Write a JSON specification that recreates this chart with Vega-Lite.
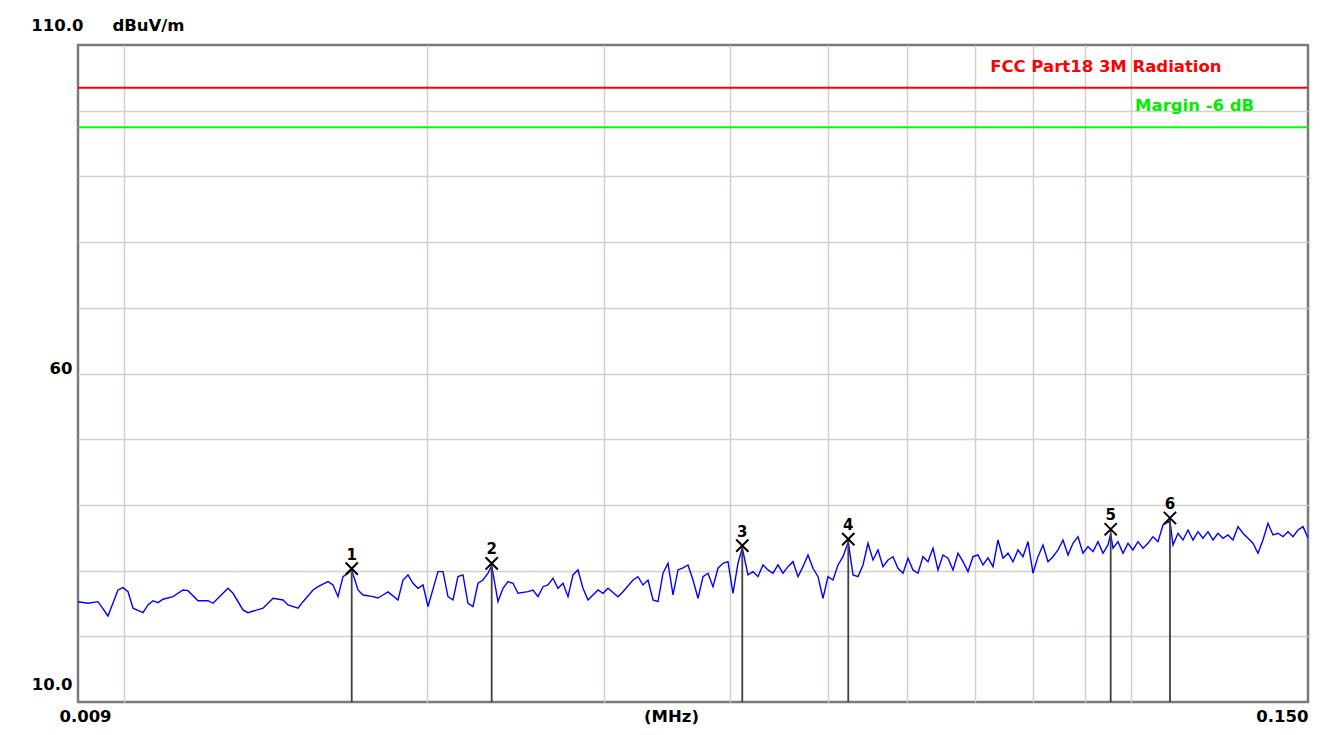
{
  "$schema": "https://vega.github.io/schema/vega-lite/v6.json",
  "width": 1230,
  "height": 657,
  "autosize": {"type": "none"},
  "padding": {"left": 78, "top": 45, "right": 30, "bottom": 33},
  "background": "#ffffff",
  "config": {
    "view": {"stroke": "#7a7a7a", "strokeWidth": 2.5},
    "axis": {
      "domain": false,
      "ticks": false,
      "grid": true,
      "gridColor": "#d4d0c8",
      "gridWidth": 1.5,
      "labelFont": "DejaVu Sans",
      "labelFontWeight": "bold",
      "labelFontSize": 16.5,
      "labelColor": "#000000",
      "titleFont": "DejaVu Sans",
      "titleFontWeight": "bold",
      "titleFontSize": 16.5,
      "titleColor": "#000000"
    },
    "text": {"font": "DejaVu Sans", "fontWeight": "bold"}
  },
  "datasets": {
    "trace": [
      {"f": 0.009000, "v": 25.27}, {"f": 0.009208, "v": 25.03}, {"f": 0.009421, "v": 25.27}, {"f": 0.009639, "v": 23.09},
      {"f": 0.009862, "v": 27.05}, {"f": 0.009976, "v": 27.40}, {"f": 0.010091, "v": 26.79}, {"f": 0.010207, "v": 24.27},
      {"f": 0.010443, "v": 23.60}, {"f": 0.010563, "v": 24.77}, {"f": 0.010684, "v": 25.42}, {"f": 0.010807, "v": 25.12},
      {"f": 0.010932, "v": 25.64}, {"f": 0.011185, "v": 26.03}, {"f": 0.011443, "v": 27.05}, {"f": 0.011575, "v": 26.95},
      {"f": 0.011843, "v": 25.42}, {"f": 0.012117, "v": 25.42}, {"f": 0.012256, "v": 25.03}, {"f": 0.012539, "v": 26.55},
      {"f": 0.012684, "v": 27.31}, {"f": 0.012830, "v": 26.55}, {"f": 0.013126, "v": 24.01}, {"f": 0.013277, "v": 23.60},
      {"f": 0.013741, "v": 24.27}, {"f": 0.014059, "v": 25.79}, {"f": 0.014384, "v": 25.53}, {"f": 0.014550, "v": 24.77},
      {"f": 0.014886, "v": 24.27}, {"f": 0.015058, "v": 25.27}, {"f": 0.015406, "v": 27.05}, {"f": 0.015583, "v": 27.55},
      {"f": 0.015943, "v": 28.32}, {"f": 0.016127, "v": 27.81}, {"f": 0.016313, "v": 26.03}, {"f": 0.016500, "v": 29.08},
      {"f": 0.016690, "v": 29.60}, {"f": 0.016832, "v": 30.10}, {"f": 0.017076, "v": 27.05}, {"f": 0.017273, "v": 26.29},
      {"f": 0.017672, "v": 26.03}, {"f": 0.017875, "v": 25.83}, {"f": 0.018081, "v": 26.29}, {"f": 0.018289, "v": 26.75},
      {"f": 0.018712, "v": 25.53}, {"f": 0.018927, "v": 28.57}, {"f": 0.019145, "v": 29.34}, {"f": 0.019365, "v": 28.07},
      {"f": 0.019588, "v": 27.31}, {"f": 0.019813, "v": 27.81}, {"f": 0.020041, "v": 24.51}, {"f": 0.020504, "v": 29.84},
      {"f": 0.020741, "v": 29.84}, {"f": 0.020979, "v": 26.03}, {"f": 0.021220, "v": 25.53}, {"f": 0.021464, "v": 29.08},
      {"f": 0.021711, "v": 29.34}, {"f": 0.021961, "v": 25.03}, {"f": 0.022214, "v": 24.51}, {"f": 0.022469, "v": 28.07},
      {"f": 0.022727, "v": 28.57}, {"f": 0.022989, "v": 29.60}, {"f": 0.023184, "v": 30.71}, {"f": 0.023521, "v": 25.27},
      {"f": 0.023791, "v": 27.31}, {"f": 0.024065, "v": 28.32}, {"f": 0.024342, "v": 28.07}, {"f": 0.024622, "v": 26.55},
      {"f": 0.025191, "v": 26.79}, {"f": 0.025481, "v": 27.05}, {"f": 0.025774, "v": 26.03}, {"f": 0.026071, "v": 27.55},
      {"f": 0.026371, "v": 27.81}, {"f": 0.026674, "v": 28.83}, {"f": 0.026981, "v": 27.31}, {"f": 0.027291, "v": 28.07},
      {"f": 0.027605, "v": 26.03}, {"f": 0.027923, "v": 29.34}, {"f": 0.028244, "v": 30.10}, {"f": 0.028569, "v": 27.31},
      {"f": 0.028897, "v": 25.53}, {"f": 0.029566, "v": 27.05}, {"f": 0.029906, "v": 26.55}, {"f": 0.030250, "v": 27.31},
      {"f": 0.030950, "v": 26.03}, {"f": 0.031306, "v": 26.79}, {"f": 0.032031, "v": 28.57}, {"f": 0.032399, "v": 29.08},
      {"f": 0.032772, "v": 27.81}, {"f": 0.033149, "v": 28.57}, {"f": 0.033530, "v": 25.53}, {"f": 0.033916, "v": 25.27},
      {"f": 0.034306, "v": 29.60}, {"f": 0.034700, "v": 31.12}, {"f": 0.035100, "v": 26.29}, {"f": 0.035503, "v": 30.10},
      {"f": 0.035911, "v": 30.40}, {"f": 0.036325, "v": 30.86}, {"f": 0.036742, "v": 28.57}, {"f": 0.037165, "v": 25.79},
      {"f": 0.037593, "v": 29.08}, {"f": 0.038025, "v": 29.60}, {"f": 0.038463, "v": 27.55}, {"f": 0.038905, "v": 30.36},
      {"f": 0.039352, "v": 31.12}, {"f": 0.039804, "v": 31.36}, {"f": 0.040262, "v": 26.55}, {"f": 0.040726, "v": 31.12},
      {"f": 0.041126, "v": 33.44}, {"f": 0.041668, "v": 29.34}, {"f": 0.042148, "v": 29.84}, {"f": 0.042632, "v": 29.08},
      {"f": 0.043123, "v": 30.86}, {"f": 0.043618, "v": 30.10}, {"f": 0.044120, "v": 29.60}, {"f": 0.044627, "v": 30.86},
      {"f": 0.045140, "v": 29.60}, {"f": 0.045660, "v": 30.60}, {"f": 0.046185, "v": 31.36}, {"f": 0.046716, "v": 29.08},
      {"f": 0.047253, "v": 30.60}, {"f": 0.047797, "v": 32.38}, {"f": 0.048347, "v": 30.36}, {"f": 0.048903, "v": 29.08},
      {"f": 0.049465, "v": 25.79}, {"f": 0.050034, "v": 29.08}, {"f": 0.050610, "v": 28.57}, {"f": 0.051192, "v": 30.86},
      {"f": 0.051781, "v": 32.12}, {"f": 0.052410, "v": 34.36}, {"f": 0.052979, "v": 29.34}, {"f": 0.053588, "v": 29.08},
      {"f": 0.054205, "v": 30.86}, {"f": 0.054828, "v": 34.16}, {"f": 0.055459, "v": 31.62}, {"f": 0.056096, "v": 33.14},
      {"f": 0.056741, "v": 30.60}, {"f": 0.057394, "v": 31.62}, {"f": 0.058054, "v": 32.12}, {"f": 0.058722, "v": 30.36},
      {"f": 0.059397, "v": 29.60}, {"f": 0.060080, "v": 31.88}, {"f": 0.060771, "v": 30.10}, {"f": 0.061471, "v": 29.60},
      {"f": 0.062178, "v": 32.12}, {"f": 0.062893, "v": 31.36}, {"f": 0.063616, "v": 33.40}, {"f": 0.064348, "v": 30.10},
      {"f": 0.065088, "v": 32.38}, {"f": 0.065837, "v": 31.88}, {"f": 0.066594, "v": 30.10}, {"f": 0.067360, "v": 32.64},
      {"f": 0.068135, "v": 31.36}, {"f": 0.068918, "v": 29.84}, {"f": 0.069711, "v": 32.12}, {"f": 0.070513, "v": 32.38},
      {"f": 0.071324, "v": 30.86}, {"f": 0.072144, "v": 31.93}, {"f": 0.072974, "v": 30.60}, {"f": 0.073813, "v": 34.66},
      {"f": 0.074662, "v": 31.88}, {"f": 0.075521, "v": 32.64}, {"f": 0.076389, "v": 31.36}, {"f": 0.077268, "v": 33.14},
      {"f": 0.078157, "v": 32.12}, {"f": 0.079056, "v": 34.40}, {"f": 0.079965, "v": 29.60}, {"f": 0.080885, "v": 32.12},
      {"f": 0.081815, "v": 33.90}, {"f": 0.082756, "v": 31.36}, {"f": 0.083708, "v": 32.12}, {"f": 0.084671, "v": 33.14},
      {"f": 0.085645, "v": 34.66}, {"f": 0.086630, "v": 32.38}, {"f": 0.087627, "v": 34.16}, {"f": 0.088635, "v": 35.16},
      {"f": 0.089654, "v": 32.64}, {"f": 0.090686, "v": 33.64}, {"f": 0.091729, "v": 32.88}, {"f": 0.092784, "v": 34.40},
      {"f": 0.093851, "v": 32.64}, {"f": 0.094931, "v": 33.90}, {"f": 0.095520, "v": 35.57}, {"f": 0.096022, "v": 33.40},
      {"f": 0.097127, "v": 34.40}, {"f": 0.098244, "v": 32.64}, {"f": 0.099374, "v": 34.16}, {"f": 0.100517, "v": 33.14},
      {"f": 0.101673, "v": 34.40}, {"f": 0.102843, "v": 33.40}, {"f": 0.104026, "v": 34.16}, {"f": 0.105222, "v": 35.16},
      {"f": 0.106433, "v": 34.40}, {"f": 0.107657, "v": 36.94}, {"f": 0.109390, "v": 37.55}, {"f": 0.110148, "v": 33.90},
      {"f": 0.111414, "v": 35.68}, {"f": 0.112696, "v": 34.66}, {"f": 0.113992, "v": 36.18}, {"f": 0.115303, "v": 34.66},
      {"f": 0.116629, "v": 35.93}, {"f": 0.117970, "v": 34.92}, {"f": 0.119327, "v": 35.93}, {"f": 0.120700, "v": 34.66},
      {"f": 0.122088, "v": 35.68}, {"f": 0.123492, "v": 34.92}, {"f": 0.124912, "v": 35.42}, {"f": 0.126349, "v": 34.66},
      {"f": 0.127802, "v": 36.69}, {"f": 0.129272, "v": 35.68}, {"f": 0.130759, "v": 34.92}, {"f": 0.132263, "v": 34.16},
      {"f": 0.133784, "v": 32.64}, {"f": 0.135322, "v": 34.66}, {"f": 0.136879, "v": 37.20}, {"f": 0.138453, "v": 35.42},
      {"f": 0.140047, "v": 35.68}, {"f": 0.141658, "v": 35.16}, {"f": 0.143287, "v": 35.93}, {"f": 0.144935, "v": 35.16},
      {"f": 0.146602, "v": 36.18}, {"f": 0.148288, "v": 36.69}, {"f": 0.150000, "v": 34.97}
    ],
    "markers": [
      {"no": "1", "f": 0.016832, "v": 30.3},
      {"no": "2", "f": 0.023184, "v": 31.1},
      {"no": "3", "f": 0.041126, "v": 33.8},
      {"no": "4", "f": 0.052410, "v": 34.8},
      {"no": "5", "f": 0.095520, "v": 36.3},
      {"no": "6", "f": 0.109390, "v": 38.0}
    ],
    "limits": [
      {"name": "FCC Part18 3M Radiation", "v": 103.5},
      {"name": "Margin -6 dB", "v": 97.5}
    ]
  },
  "layer": [
    {
      "data": {"name": "trace"},
      "mark": {"type": "line", "color": "#0000ff", "strokeWidth": 1.4, "clip": true},
      "encoding": {
        "x": {
          "field": "f",
          "type": "quantitative",
          "scale": {"type": "log", "domain": [0.009, 0.15], "nice": false},
          "axis": {
            "values": [0.009, 0.01, 0.02, 0.03, 0.04, 0.05, 0.06, 0.07, 0.08, 0.09, 0.1, 0.15],
            "format": ".3f",
            "labelExpr": "datum.value == 0.009 || datum.value == 0.15 ? datum.label : ''",
            "labelAlign": {"condition": {"test": "datum.value == 0.009", "value": "center"}, "value": "right"},
            "labelOffset": {"condition": {"test": "datum.value == 0.009", "value": 7}, "value": 0},
            "labelBaseline": "middle",
            "labelPadding": 14,
            "labelOverlap": false,
            "labelFlush": false,
            "labelBound": false,
            "gridOpacity": {"condition": {"test": "datum.value == 0.009 || datum.value == 0.15", "value": 0}, "value": 1},
            "title": "(MHz)",
            "titleX": 593,
            "titleY": 14,
            "titleAlign": "center",
            "titleBaseline": "middle"
          }
        },
        "y": {
          "field": "v",
          "type": "quantitative",
          "scale": {"domain": [10, 110], "nice": false},
          "axis": {
            "values": [10, 20, 30, 40, 50, 60, 70, 80, 90, 100, 110],
            "labelExpr": "datum.value == 110 ? '110.0' : datum.value == 60 ? '60' : datum.value == 10 ? '10.0' : ''",
            "labelBaseline": "middle",
            "labelPadding": {"condition": {"test": "datum.value == 110", "value": -5}, "value": 6},
            "labelOffset": {"condition": [{"test": "datum.value == 110", "value": -20}, {"test": "datum.value == 10", "value": -18}], "value": -5},
            "labelOverlap": false,
            "labelFlush": false,
            "labelBound": false,
            "gridOpacity": {"condition": {"test": "datum.value == 10 || datum.value == 110", "value": 0}, "value": 1},
            "title": "dBuV/m",
            "titleAngle": 0,
            "titleX": 70,
            "titleY": -20,
            "titleAlign": "center",
            "titleBaseline": "middle"
          }
        }
      }
    },
    {
      "data": {"name": "limits"},
      "mark": {"type": "rule", "strokeWidth": 2},
      "encoding": {
        "y": {"field": "v", "type": "quantitative"},
        "color": {
          "field": "name",
          "type": "nominal",
          "scale": {"domain": ["FCC Part18 3M Radiation", "Margin -6 dB"], "range": ["#ff0000", "#00ff00"]},
          "legend": null
        }
      }
    },
    {
      "data": {"name": "limits"},
      "transform": [{"filter": "datum.name == 'FCC Part18 3M Radiation'"}],
      "mark": {"type": "text", "align": "left", "baseline": "middle", "dy": -21, "fontSize": 16.5, "color": "#ff0000"},
      "encoding": {
        "x": {"datum": 0.0725},
        "y": {"field": "v", "type": "quantitative"},
        "text": {"field": "name"}
      }
    },
    {
      "data": {"name": "limits"},
      "transform": [{"filter": "datum.name == 'Margin -6 dB'"}],
      "mark": {"type": "text", "align": "left", "baseline": "middle", "dy": -21, "fontSize": 16.5, "color": "#00ee00"},
      "encoding": {
        "x": {"datum": 0.101},
        "y": {"field": "v", "type": "quantitative"},
        "text": {"field": "name"}
      }
    },
    {
      "data": {"name": "markers"},
      "mark": {"type": "rule", "color": "#404040", "strokeWidth": 1.8},
      "encoding": {
        "x": {"field": "f", "type": "quantitative"},
        "y": {"field": "v", "type": "quantitative"},
        "y2": {"datum": 10}
      }
    },
    {
      "data": {"name": "markers"},
      "mark": {"type": "point", "shape": "M-1,-1L1,1M-1,1L1,-1", "size": 150, "filled": false, "stroke": "#000000", "strokeWidth": 2, "opacity": 1},
      "encoding": {
        "x": {"field": "f", "type": "quantitative"},
        "y": {"field": "v", "type": "quantitative"}
      }
    },
    {
      "data": {"name": "markers"},
      "mark": {"type": "text", "baseline": "middle", "align": "center", "dy": -14, "fontSize": 15, "color": "#000000"},
      "encoding": {
        "x": {"field": "f", "type": "quantitative"},
        "y": {"field": "v", "type": "quantitative"},
        "text": {"field": "no"}
      }
    }
  ]
}
